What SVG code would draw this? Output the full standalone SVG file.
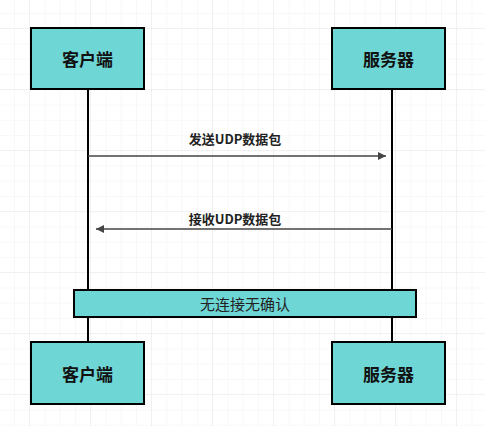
<svg xmlns="http://www.w3.org/2000/svg" width="485" height="426" viewBox="0 0 485 426">
<defs>
<pattern id="minor" x="14" y="13" width="15.25" height="15.25" patternUnits="userSpaceOnUse">
<path d="M0 0H15.25M0 0V15.25" fill="none" stroke="#f2f2f2" stroke-width="1"/>
</pattern>
<pattern id="major" x="29" y="28" width="61" height="61" patternUnits="userSpaceOnUse">
<path d="M0 0H61M0 0V61" fill="none" stroke="#e8e8e8" stroke-width="1"/>
</pattern>
<marker id="arr" viewBox="0 0 10 10" refX="10" refY="5" markerWidth="12" markerHeight="8" markerUnits="userSpaceOnUse" orient="auto">
<path d="M0 0L10 5L0 10Z" fill="#444"/>
</marker>
</defs>
<style>
.box{fill:#6fd6d6;stroke:#000;stroke-width:2}
.bt{font-family:"Noto Sans CJK SC","Liberation Sans",sans-serif;font-size:17px;font-weight:bold;fill:#111;text-anchor:middle;dominant-baseline:central}
.lbl{font-family:"Noto Sans CJK SC","Liberation Sans",sans-serif;font-size:13px;font-weight:bold;fill:#222;text-anchor:middle;dominant-baseline:central}
.bar{font-family:"Noto Sans CJK SC","Liberation Sans",sans-serif;font-size:15px;fill:#222;text-anchor:middle;dominant-baseline:central}
.life{stroke:#000;stroke-width:2}
.msg{stroke:#444;stroke-width:1.5;fill:none;marker-end:url(#arr)}
</style>
<rect width="485" height="426" fill="#fff"/>
<rect width="485" height="426" fill="url(#minor)"/>
<rect width="485" height="426" fill="url(#major)"/>
<g id="connectors">
<line class="life" x1="88" y1="89" x2="88" y2="342"/>
<line class="life" x1="392" y1="89" x2="392" y2="342"/>
<line class="msg" x1="88" y1="156" x2="386" y2="156"/>
<line class="msg" x1="392" y1="229" x2="96" y2="229"/>
<text class="lbl" x="235" y="138">发送UDP数据包</text>
<text class="lbl" x="235" y="218">接收UDP数据包</text>
</g>
<g id="client-top"><rect class="box" x="31" y="28" width="113" height="61"/><text class="bt" x="87.5" y="58.5">客户端</text></g>
<g id="server-top"><rect class="box" x="332" y="28" width="113" height="61"/><text class="bt" x="388.5" y="58.5">服务器</text></g>
<g id="note"><rect class="box" x="74" y="290" width="342" height="27"/><text class="bar" x="245" y="303.5">无连接无确认</text></g>
<g id="client-bottom"><rect class="box" x="31" y="342" width="113" height="62"/><text class="bt" x="87.5" y="373">客户端</text></g>
<g id="server-bottom"><rect class="box" x="332" y="342" width="113" height="62"/><text class="bt" x="388.5" y="373">服务器</text></g>
</svg>
